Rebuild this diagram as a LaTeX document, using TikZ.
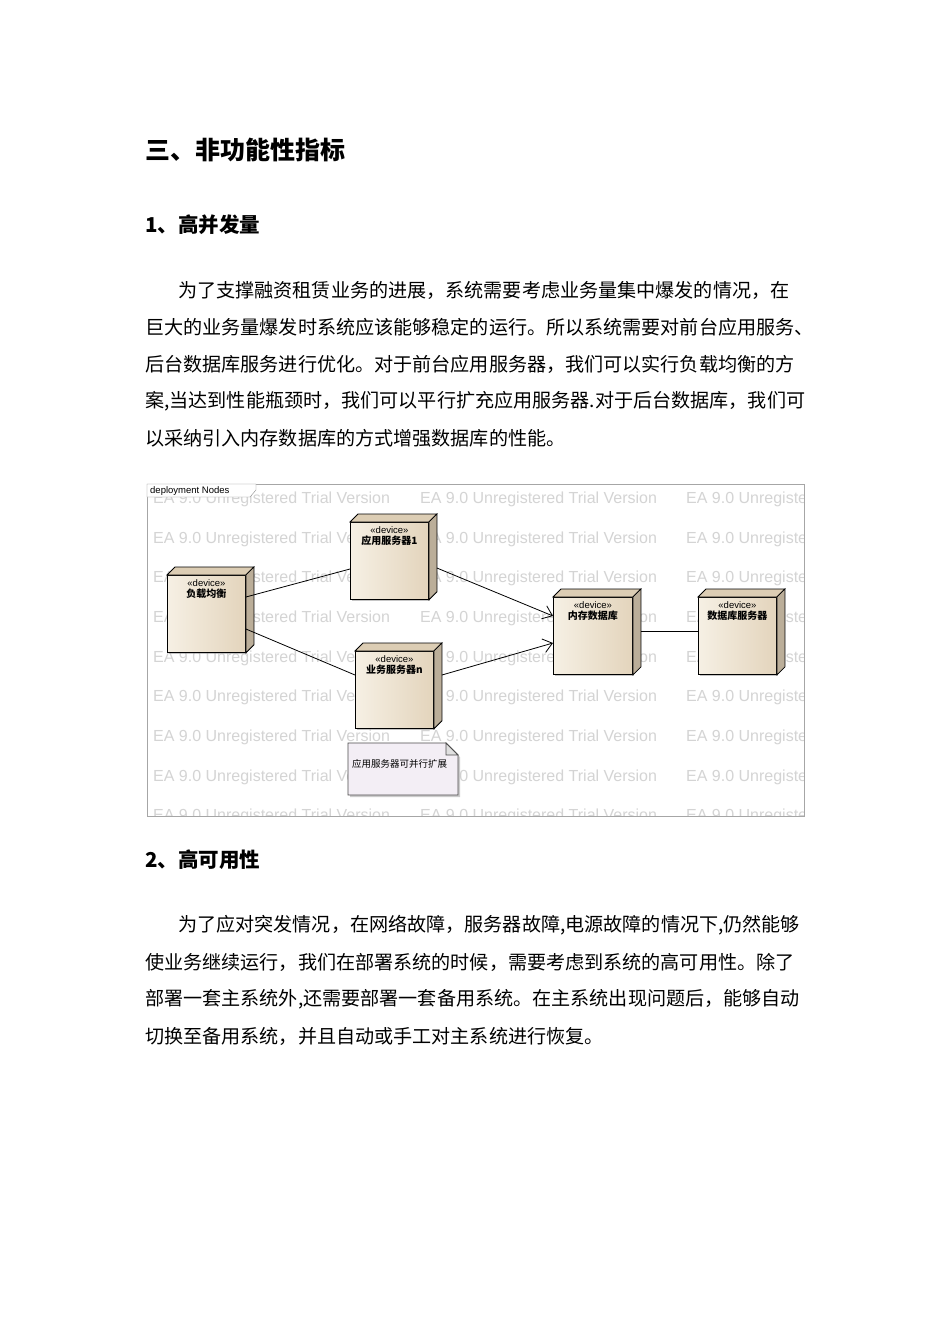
\documentclass[tikz,border=0pt]{standalone}
\usepackage{fontspec}
\setmainfont{Noto Sans CJK SC}
\setsansfont{Liberation Sans}
\usetikzlibrary{arrows.meta,shadows}
\definecolor{devA}{HTML}{F6F0E4}
\definecolor{devB}{HTML}{E3D4BC}
\definecolor{devSide}{HTML}{DCCDB4}
\definecolor{noteC}{HTML}{F3EEF5}
\tikzset{
  x=1pt,y=-1pt,
  body/.style={anchor=west,font=\fontsize{19.1}{20}\selectfont,inner sep=0},
  head/.style={anchor=west,inner sep=0,font=\bfseries},
  devbox/.style={draw=black,line width=0.9pt,left color=devA,right color=devB,minimum width=78,minimum height=77,inner sep=0,anchor=north west,
     drop shadow={shadow xshift=2pt,shadow yshift=-2pt,fill=black!45}},
  devlbl/.style={align=center,font=\sffamily\fontsize{9.5}{12}\selectfont,anchor=north,inner sep=0},
  conn/.style={line width=0.8pt},
  arr/.style={conn,-{Straight Barb[length=9pt,width=14pt,line width=0.8pt]}},
  wm/.style={anchor=west,text=black!17,font=\sffamily\fontsize{16}{16}\selectfont,inner sep=0}
}
\newcommand{\dev}[5]{% name, x, y, label, width
  \node[devbox,minimum width=#5] (#1) at (#2,#3) {};
  \fill[devSide,draw=black,line width=0.8pt] (#1.north west) -- ++(8,-8) -- ++(#5,0) -- ([xshift=8pt,yshift=8pt]#1.north east) -- (#1.north east) -- cycle;
  \fill[devSide!85!black,draw=black,line width=0.8pt] (#1.north east) -- ++(8,-8) -- ([xshift=8pt,yshift=8pt]#1.south east) -- (#1.south east) -- cycle;
  \node[devlbl] (#1lbl) at ([yshift=-4pt]#1.north) {«device»\\[-1pt]{\fontspec{Noto Sans CJK SC}\bfseries\fontsize{10}{12}\selectfont #4}};
}
\begin{document}
\begin{tikzpicture}
\useasboundingbox (0,0) rectangle (950,1344);
\fill[white] (0,0) rectangle (950,1344);
\node[head,font=\bfseries\fontsize{25}{25}\selectfont] (h1) at (145,150) {三、非功能性指标};
\node[head,font=\bfseries\fontsize{20.5}{21}\selectfont] (h2) at (145,225) {1、高并发量};
\node[body] (p1) at (178,290) {为了支撑融资租赁业务的进展，系统需要考虑业务量集中爆发的情况，在};
\node[body] (p2) at (145,327) {巨大的业务量爆发时系统应该能够稳定的运行。所以系统需要对前台应用服务、};
\node[body] (p3) at (145,364) {后台数据库服务进行优化。对于前台应用服务器，我们可以实行负载均衡的方};
\node[body] (p4) at (145,401) {案,当达到性能瓶颈时，我们可以平行扩充应用服务器.对于后台数据库，我们可};
\node[body] (p5) at (145,438) {以采纳引入内存数据库的方式增强数据库的性能。};
% diagram frame
\draw[black!35,line width=0.8pt] (147,484) rectangle (804,816);
\begin{scope}
\clip (147.5,484.5) rectangle (803.5,815.5);
\foreach \yy in {499,539,578,618,658,697,737,777,816}{
  \foreach \xx in {153,420,686}{
    \node[wm] at (\xx,\yy) {EA 9.0 Unregistered Trial Version};
  }
}
\end{scope}
\draw[black!45,fill=white] (147,484) -- (256,484) -- (256,490) -- (250,497) -- (147,497) -- cycle;
\node[anchor=west,inner sep=0,font=\sffamily\fontsize{9.5}{9}\selectfont] (title) at (150,491.5) {deployment Nodes};
% nodes
\dev{lb}{167}{575}{负载均衡}{78}
\dev{app}{350}{522}{应用服务器1}{78}
\dev{biz}{355}{651}{业务服务器n}{78}
\dev{mem}{553}{597}{内存数据库}{79}
\dev{dbs}{698}{597}{数据库服务器}{78}
% note
\draw[black!70,fill=noteC,line width=0.8pt,drop shadow={shadow xshift=2pt,shadow yshift=-2pt,fill=black!40}] (348,743) -- (446,743) -- (458,755) -- (458,795) -- (348,795) -- cycle;
\draw[black!70,fill=black!12,line width=0.8pt] (446,743) -- (446,755) -- (458,755) -- cycle;
\node[anchor=west,inner sep=0,font=\fontsize{9.5}{10}\selectfont] (note) at (352,764) {应用服务器可并行扩展};
% connectors
\draw[conn] ([yshift=-22pt]lb.north east) -- ([yshift=-47pt]app.north west);
\draw[conn] ([yshift=-54pt]lb.north east) -- ([yshift=-24pt]biz.north west);
\draw[arr] ([xshift=8pt,yshift=-46pt]app.north east) -- ([yshift=-19pt]mem.north west);
\draw[arr] ([xshift=8pt,yshift=-24pt]biz.north east) -- ([yshift=-46pt]mem.north west);
\draw[conn] ([xshift=8pt,yshift=-34pt]mem.north east) -- ([yshift=-34pt]dbs.north west);
\node[head,font=\bfseries\fontsize{20.5}{21}\selectfont] (h3) at (145,860) {2、高可用性};
\node[body] (q1) at (178,925) {为了应对突发情况，在网络故障，服务器故障,电源故障的情况下,仍然能够};
\node[body] (q2) at (145,962) {使业务继续运行，我们在部署系统的时候，需要考虑到系统的高可用性。除了};
\node[body] (q3) at (145,999) {部署一套主系统外,还需要部署一套备用系统。在主系统出现问题后，能够自动};
\node[body] (q4) at (145,1036) {切换至备用系统，并且自动或手工对主系统进行恢复。};
\end{tikzpicture}
\end{document}
